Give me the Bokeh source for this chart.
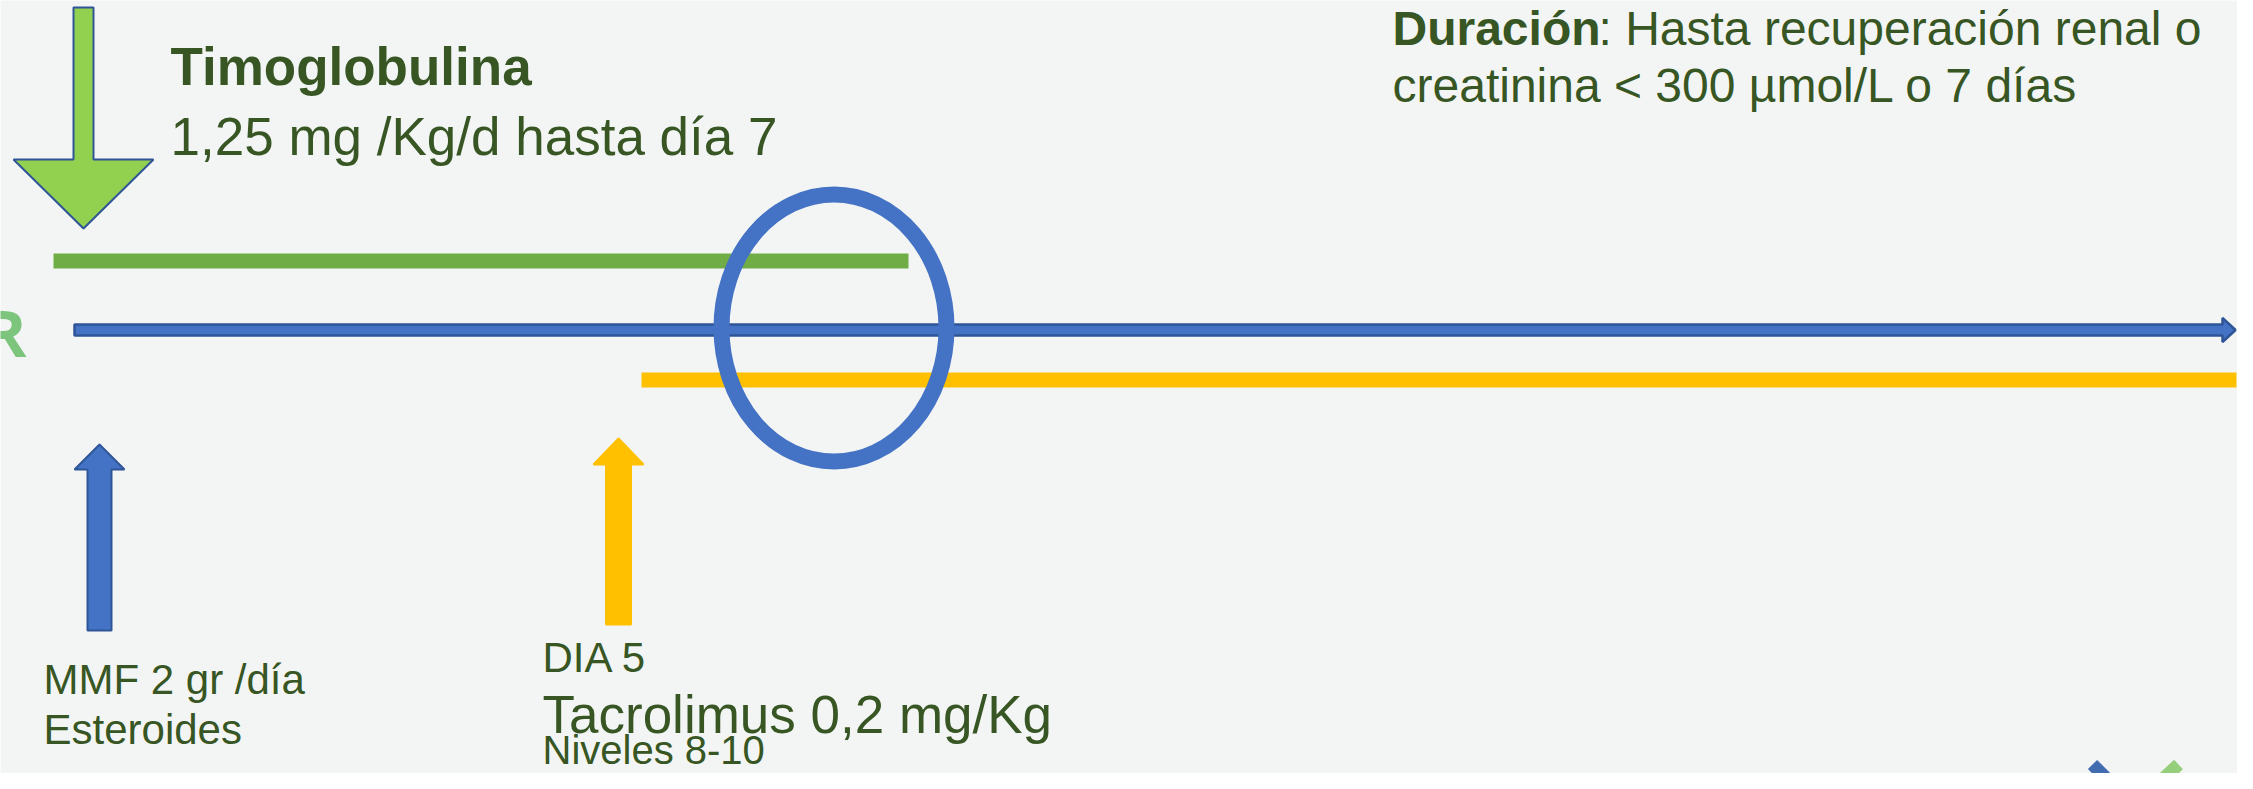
from bokeh.plotting import figure
from bokeh.models import Range1d, ColumnDataSource
from bokeh.embed import file_html
from bokeh.resources import INLINE
from bokeh.core.properties import value

# ---------------- data (slide coordinates, pixels from the slide's top-left) ----------------
BG = "#F3F5F4"
TXT = "#375623"

# therapy bars along the timeline
bar_names = ["Timoglobulina", "Tacrolimus"]
bar_x0 = [53, 641]
bar_x1 = [908, 2236]
bar_top = [253, 372]
bar_bottom = [268, 387]
bar_colors = ["#70AD47", "#FFC000"]

# main timeline (arrow to the right)
timeline_x0 = 74
timeline_x1 = 2222
timeline_tip = 2235
timeline_y = 329.5
timeline_half = 5.5
timeline_head_half = 12

# block arrows (start of each drug)
arrow_names = ["Timoglobulina", "MMF / Esteroides", "Tacrolimus"]
arrow_x = [83, 99, 618]
arrow_tail_y = [7, 630, 624]
arrow_tip_y = [228, 444, 438]
arrow_shaft_w = [20, 24, 25]
arrow_head_w = [140, 50, 50]
arrow_head_len = [69, 25, 26]
arrow_fill = ["#92D050", "#4472C4", "#FFC000"]
arrow_line = ["#2F5597", "#2F5597", "#FFC000"]

# highlight ellipse (day ~7 overlap)
ell_x = [833.5]
ell_y = [327.5]
ell_w = [225]
ell_h = [267]

# texts (y = baseline)
txt = ["Timoglobulina", "1,25 mg /Kg/d hasta día 7",
       "Duración", ": Hasta recuperación renal o", "creatinina < 300 µmol/L o 7 días",
       "MMF 2 gr /día", "Esteroides",
       "DIA 5", "Tacrolimus 0,2 mg/Kg", "Niveles 8-10"]
txt_x = [170, 170, 1392, 1598, 1392, 43, 43, 542, 542, 542]
txt_y = [83, 153, 43, 43, 100, 692, 742, 670, 731, 762]
txt_px = [53, 53, 48, 48, 48, 42, 42, 42, 53, 40]
txt_style = ["bold", "normal", "bold", "normal", "normal", "normal", "normal", "normal", "normal", "normal"]

# partial logo bottom-right
logo_x0 = [2092, 2178]
logo_y0 = [764, 764]
logo_x1 = [2118, 2150]
logo_y1 = [790, 790]
logo_colors = ["#2E5DA8", "#8CCB6E"]

# ---------------- figure ----------------
W, H = 2253 - 16, 789 - 16
BASE_SHIFT = 0.32  # renderer places the alphabetic baseline ~0.32 em low

p = figure(width=W, height=H,
           x_range=Range1d(0, W),
           y_range=Range1d(H, 0),
           x_axis_type=None, y_axis_type=None,
           output_backend="svg", toolbar_location=None, min_border=0)
p.grid.visible = False
p.outline_line_color = None
p.background_fill_color = BG
p.border_fill_color = BG

# green bar first (under the timeline)
p.quad(left=bar_x0[:1], right=bar_x1[:1], top=bar_top[:1], bottom=bar_bottom[:1],
       fill_color=bar_colors[:1], line_color=None)

# timeline arrow
tl_xs = [timeline_x0, timeline_x1, timeline_x1, timeline_tip, timeline_x1, timeline_x1, timeline_x0]
tl_ys = [timeline_y - timeline_half, timeline_y - timeline_half, timeline_y - timeline_head_half,
         timeline_y, timeline_y + timeline_head_half, timeline_y + timeline_half, timeline_y + timeline_half]
p.patch(tl_xs, tl_ys, fill_color="#4472C4", line_color="#2F5597", line_width=2.5)

# yellow bar
p.quad(left=bar_x0[1:], right=bar_x1[1:], top=bar_top[1:], bottom=bar_bottom[1:],
       fill_color=bar_colors[1:], line_color=None)

# block arrows
axs, ays = [], []
for cx, ty, tip, sw, hw, hl in zip(arrow_x, arrow_tail_y, arrow_tip_y, arrow_shaft_w, arrow_head_w, arrow_head_len):
    d = 1 if tip > ty else -1
    base = tip - d * hl
    axs.append([cx - sw / 2, cx + sw / 2, cx + sw / 2, cx + hw / 2, cx, cx - hw / 2, cx - sw / 2])
    ays.append([ty, ty, base, base, tip, base, base])
asrc = ColumnDataSource(dict(xs=axs, ys=ays, fill=arrow_fill, line=arrow_line))
p.patches("xs", "ys", source=asrc, fill_color="fill", line_color="line", line_width=2)

# ellipse highlight
p.ellipse(x=ell_x, y=ell_y, width=ell_w, height=ell_h, fill_color=None,
          line_color="#4472C4", line_width=16)

# texts
tsrc = ColumnDataSource(dict(x=txt_x, y=[y - BASE_SHIFT * s for y, s in zip(txt_y, txt_px)], t=txt,
                             size=["%dpx" % v for v in txt_px], style=txt_style))
p.text(x="x", y="y", text="t", source=tsrc, text_font=value("Liberation Sans"),
       text_font_size="size", text_font_style="style", text_color=TXT,
       text_align="left", text_baseline="alphabetic")

# cut-off letter on the left edge
p.text(x=[26], y=[352 - BASE_SHIFT * 64], text=["R"], text_font=value("Open Sans"),
       text_font_size="64px", text_font_style="bold",
       text_color="#7DC47D", text_align="right", text_baseline="alphabetic")

# partial logo
p.segment(x0=logo_x0, y0=logo_y0, x1=logo_x1, y1=logo_y1, line_color=logo_colors,
          line_width=13, line_alpha=0.9)

html = file_html(p, INLINE)
html = html.replace("<body>", '<body style="background-color:%s;">' % BG, 1)
open("out.html", "w").write(html)
